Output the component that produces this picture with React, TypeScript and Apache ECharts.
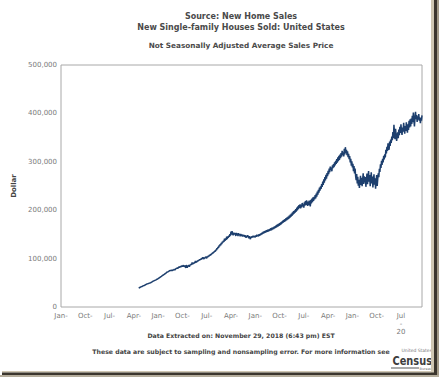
import React, { useEffect, useRef } from "react";
import * as echarts from "echarts";

const MONTHS = ["Jan", "Feb", "Mar", "Apr", "May", "Jun", "Jul", "Aug", "Sep", "Oct", "Nov", "Dec"];
const START_YEAR = 1963;
const FIRST_DATA_YEAR = 1975;

// Average sales price, thousands of dollars, monthly from Jan 1975 (by year)
const price1975_1984 = [
  39.0, 39.6, 40.3, 40.8, 41.5, 42.0, 42.4, 43.1, 43.6, 44.2, 44.5, 45.3,
  45.5, 46.3, 46.9, 47.2, 47.8, 48.1, 48.5, 48.9, 49.4, 49.9, 50.2, 51.0,
  51.3, 52.0, 52.8, 53.4, 54.0, 54.5, 55.1, 55.6, 56.2, 56.9, 57.4, 58.0,
  58.6, 59.5, 60.3, 61.0, 61.9, 62.6, 63.4, 64.0, 65.1, 65.8, 66.5, 67.2,
  67.8, 68.9, 69.5, 70.6, 71.2, 72.4, 72.0, 73.1, 73.8, 74.9, 74.2, 75.6,
  74.8, 75.9, 76.8, 75.6, 77.2, 76.1, 78.0, 76.5, 77.9, 79.1, 78.2, 80.4,
  81.3, 80.2, 82.6, 83.4, 82.1, 84.0, 82.8, 83.9, 85.1, 83.6, 84.8, 86.2,
  83.1, 85.4, 84.0, 80.7, 86.3, 84.5, 81.2, 85.8, 84.1, 86.9, 83.0, 87.6,
  86.2, 88.5, 87.1, 91.9, 88.4, 91.0, 89.3, 92.4, 90.6, 95.1, 91.7, 94.5,
  93.0, 95.8, 94.6, 97.2, 96.0, 98.5, 97.1, 99.8, 98.2, 101.0, 99.5, 102.6,
];
const price1985_1994 = [
  100.8, 99.2, 102.5, 101.0, 103.9, 102.2, 100.9, 104.4, 103.0, 105.8, 104.1, 107.5,
  106.2, 108.9, 107.4, 110.8, 109.5, 112.6, 111.0, 114.3, 113.1, 116.2, 114.8, 118.5,
  117.0, 121.4, 119.8, 124.1, 122.5, 127.0, 125.2, 129.8, 127.6, 132.4, 130.1, 135.2,
  133.0, 136.8, 134.5, 141.2, 136.9, 141.5, 138.7, 145.6, 140.2, 145.9, 142.8, 147.5,
  145.1, 150.3, 147.2, 155.8, 149.5, 156.6, 151.0, 148.2, 153.4, 149.7, 152.9, 150.1,
  146.8, 153.2, 149.0, 151.8, 146.5, 152.4, 148.9, 150.6, 145.8, 150.9, 147.3, 149.8,
  145.6, 149.2, 146.0, 148.7, 144.9, 147.8, 146.2, 142.8, 147.5, 145.0, 148.1, 144.6,
  142.3, 146.0, 143.1, 140.2, 145.4, 142.8, 146.3, 143.5, 147.0, 144.2, 146.8, 145.1,
  144.0, 147.6, 145.3, 149.1, 146.2, 148.8, 145.9, 150.2, 147.4, 151.0, 148.5, 152.3,
  149.8, 153.9, 151.0, 155.6, 152.4, 156.8, 153.3, 157.9, 154.6, 158.4, 155.2, 159.7,
];
const price1995_2004 = [
  155.9, 160.2, 157.1, 161.5, 157.8, 162.9, 158.6, 163.8, 160.2, 164.5, 161.0, 166.1,
  162.3, 167.2, 163.8, 168.9, 165.0, 170.4, 166.2, 171.8, 167.5, 173.0, 169.1, 174.6,
  171.0, 176.3, 172.8, 178.5, 174.4, 180.0, 175.9, 181.7, 177.2, 183.6, 179.0, 185.1,
  180.5, 186.8, 182.0, 188.9, 184.1, 190.6, 186.0, 192.8, 188.3, 195.5, 190.7, 197.9,
  193.0, 199.6, 195.2, 202.4, 197.1, 205.3, 199.8, 208.0, 202.2, 210.6, 204.9, 212.1,
  203.5, 211.8, 206.0, 214.9, 208.3, 212.0, 205.1, 216.2, 209.4, 218.7, 211.0, 220.3,
  213.4, 208.9, 217.6, 210.2, 219.8, 212.5, 207.9, 221.4, 214.0, 223.8, 216.7, 226.5,
  219.0, 227.8, 222.3, 231.0, 224.6, 234.2, 228.1, 238.5, 231.9, 242.0, 236.4, 246.8,
  240.2, 249.5, 243.8, 254.1, 248.0, 258.9, 252.3, 263.7, 257.1, 268.4, 261.5, 272.9,
  265.0, 276.8, 270.3, 281.5, 274.2, 285.9, 278.6, 290.3, 282.7, 288.1, 280.4, 292.6,
];
const price2005_2018 = [
  286.9, 295.2, 289.0, 298.7, 292.5, 302.1, 295.4, 305.8, 298.0, 309.2, 301.3, 312.5,
  304.1, 314.8, 307.6, 318.2, 310.4, 322.7, 313.9, 319.5, 311.2, 326.8, 315.0, 330.2,
  318.6, 324.9, 313.5, 321.7, 309.8, 316.4, 305.2, 312.0, 298.6, 306.3, 292.1, 300.8,
  288.4, 296.0, 280.7, 291.2, 275.9, 286.3, 270.4, 262.1, 274.8, 255.3, 268.9, 250.6,
  262.7, 246.1, 258.3, 271.0, 252.4, 266.9, 249.8, 263.5, 276.1, 254.0, 270.2, 257.6,
  268.5, 248.3, 262.0, 275.8, 253.9, 267.1, 281.0, 258.7, 272.4, 249.5, 265.8, 278.2,
  255.1, 269.6, 247.0, 261.8, 274.3, 252.9, 266.0, 244.2, 259.7, 272.6, 250.1, 264.8,
  276.3, 268.1, 285.7, 279.0, 294.6, 287.2, 301.8, 293.5, 306.4, 298.9, 312.2, 304.7,
  315.6, 309.2, 324.8, 317.1, 330.9, 322.4, 338.2, 329.5, 325.0, 341.7, 332.8, 346.0,
  339.1, 352.4, 344.6, 361.3, 348.9, 376.5, 358.2, 347.0, 368.4, 355.6, 343.2, 352.9,
  361.0, 348.7, 366.5, 354.9, 372.3, 359.8, 377.6, 363.1, 355.4, 371.0, 362.5, 380.4,
  366.9, 358.3, 374.1, 363.6, 381.8, 368.5, 360.2, 377.3, 365.9, 384.6, 371.2, 387.9,
  373.0, 389.6, 378.4, 395.2, 382.1, 401.8, 386.5, 372.9, 391.4, 403.5, 388.0, 396.7,
  382.5, 394.0, 387.3, 398.6, 384.8, 392.1, 379.6, 390.5, 385.2, 395.8,
];

const priceThousands = [...price1975_1984, ...price1985_1994, ...price1995_2004, ...price2005_2018];

const yTicks = [0, 100000, 200000, 300000, 400000, 500000];

// Build monthly categories Jan 1963 .. Oct 2018
const TOTAL_MONTHS = (2018 - START_YEAR) * 12 + 10;
const categories: string[] = [];
for (let i = 0; i < TOTAL_MONTHS; i++) {
  categories.push(MONTHS[i % 12] + "-" + (START_YEAR + Math.floor(i / 12)));
}
const offset = (FIRST_DATA_YEAR - START_YEAR) * 12;
const seriesData: (number | null)[] = categories.map((_, i) =>
  i >= offset && i - offset < priceThousands.length ? Math.round(priceThousands[i - offset] * 1000) : null
);

const FONT = "'DejaVu Sans', Verdana, sans-serif";
const CX = 241;

export default function App() {
  const ref = useRef<HTMLDivElement>(null);
  useEffect(() => {
    if (!ref.current) return;
    const chart = echarts.init(ref.current, undefined, { renderer: "svg" });
    chart.setOption({
      animation: false,
      backgroundColor: "#ffffff",
      grid: { left: 61, top: 65, right: 17, bottom: 70, show: true, borderColor: "#a8a8a8", borderWidth: 1 },
      xAxis: {
        type: "category",
        data: categories,
        boundaryGap: false,
        axisLine: { show: false },
        axisTick: { show: false },
        splitLine: { show: false },
        axisLabel: {
          interval: 44,
          hideOverlap: false,
          color: "#7a7a7a",
          fontSize: 7,
          fontFamily: FONT,
          margin: 5,
          lineHeight: 8,
          formatter: (v: string) => {
            const m = v.split("-")[0];
            if (v === "Jul-2015") return "Jul\n-\n20";
            return m + "-";
          },
        },
      },
      yAxis: {
        type: "value",
        min: 0,
        max: 500000,
        interval: 100000,
        axisLine: { show: false },
        axisTick: { show: false },
        splitLine: { show: false },
        axisLabel: {
          color: "#7a7a7a",
          fontSize: 7,
          fontFamily: FONT,
          margin: 4,
          formatter: (v: number) => (yTicks.includes(v) ? v.toLocaleString("en-US") : ""),
        },
        name: "Dollar",
        nameLocation: "middle",
        nameRotate: 90,
        nameGap: 44,
        nameTextStyle: { color: "#444", fontSize: 7, fontWeight: "bold", fontFamily: FONT },
      },
      series: [
        {
          type: "line",
          data: seriesData,
          showSymbol: false,
          connectNulls: false,
          lineStyle: { color: "#1d3f6e", width: 1.5 },
        },
      ],
      graphic: [
        { type: "text", x: CX, y: 16, style: { text: "Source: New Home Sales", fill: "#4a4a4a", font: `bold 8px ${FONT}`, textAlign: "center", textVerticalAlign: "middle" } },
        { type: "text", x: CX, y: 27, style: { text: "New Single-family Houses Sold: United States", fill: "#4a4a4a", font: `bold 8px ${FONT}`, textAlign: "center", textVerticalAlign: "middle" } },
        { type: "text", x: CX, y: 45, style: { text: "Not Seasonally Adjusted Average Sales Price", fill: "#4a4a4a", font: `bold 7.3px ${FONT}`, textAlign: "center", textVerticalAlign: "middle" } },
        { type: "text", x: CX, y: 335, style: { text: "Data Extracted on: November 29, 2018 (6:43 pm) EST", fill: "#444", font: `bold 6.2px ${FONT}`, textAlign: "center", textVerticalAlign: "middle" } },
        { type: "text", x: CX, y: 351, style: { text: "These data are subject to sampling and nonsampling error. For more information see", fill: "#444", font: `bold 6.2px ${FONT}`, textAlign: "center", textVerticalAlign: "middle" } },
        { type: "text", x: 432, y: 350.5, style: { text: "United States", fill: "#777", font: `4.5px ${FONT}`, textAlign: "right", textVerticalAlign: "middle", lineHeight: 5 } },
        { type: "text", x: 432, y: 361, scaleX: 0.84, style: { text: "Census", fill: "#3d3d3d", font: `bold 13px 'Liberation Sans Narrow', 'DejaVu Sans Condensed', 'Liberation Sans', sans-serif`, textAlign: "right", textVerticalAlign: "middle", lineHeight: 12 } },
        { type: "rect", shape: { x: 391, y: 367.5, width: 28, height: 1 }, style: { fill: "#555" } },
        { type: "text", x: 432, y: 369, style: { text: "Bureau", fill: "#777", font: `3.5px ${FONT}`, textAlign: "right", textVerticalAlign: "middle", lineHeight: 3.5 } },
        { type: "rect", shape: { x: 431, y: 0, width: 3, height: 373 }, style: { fill: "#cfc6b2" } },
        { type: "rect", shape: { x: 434, y: 0, width: 3, height: 375 }, style: { fill: "#3b352d" } },
        { type: "rect", shape: { x: 437, y: 0, width: 2, height: 377 }, style: { fill: "#a39a88" } },
        { type: "rect", shape: { x: 2, y: 371, width: 432, height: 1.5 }, style: { fill: "#cfc6b2" } },
        { type: "rect", shape: { x: 2, y: 372.5, width: 435, height: 2.5 }, style: { fill: "#3b352d" } },
        { type: "rect", shape: { x: 0, y: 375, width: 439, height: 2 }, style: { fill: "#b5ad9c" } },
      ],
    });
    return () => chart.dispose();
  }, []);
  return <div ref={ref} style={{ position: "fixed", left: 0, top: 0, width: 439, height: 377 }} />;
}
